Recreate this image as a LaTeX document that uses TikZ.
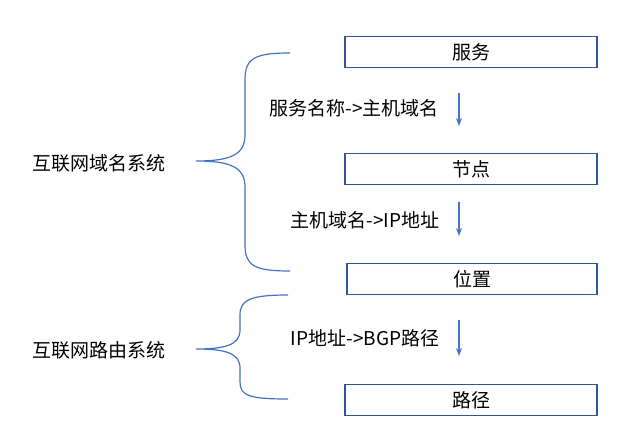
\documentclass[tikz,border=0pt]{standalone}
\usepackage{fontspec}
\setmainfont{Noto Sans CJK SC}
\usetikzlibrary{arrows.meta}
\definecolor{bl}{HTML}{2F5597}
\definecolor{ab}{HTML}{4472C4}
\begin{document}
\begin{tikzpicture}[x=1pt,y=-1pt,
  box/.style={draw=bl,line width=1.6pt,minimum height=31pt,inner sep=0pt},
  txt/.style={font=\fontsize{19}{22}\selectfont,text=black},
  arr/.style={draw=ab,line width=1.5pt,-{Stealth[length=8pt,width=6pt]}},
  br/.style={draw=ab,line width=1.2pt}]
\useasboundingbox (0,0) rectangle (627,441);
\node[box,minimum width=252pt] (s) at (471,52) {};
\node[txt] at (s) {服务};
\node[box,minimum width=252pt] (n) at (471,169) {};
\node[txt] at (n) {节点};
\node[box,minimum width=250pt] (p) at (472,279) {};
\node[txt] at (p) {位置};
\node[box,minimum width=252pt] (r) at (471,400) {};
\node[txt] at (r) {路径};
\coordinate (a1) at (459,93); \coordinate (a2) at (459,126);
\coordinate (b1) at (459,202); \coordinate (b2) at (459,236);
\coordinate (c1) at (459,320); \coordinate (c2) at (459,356);
\draw[arr] (a1) -- (a2);
\draw[arr] (b1) -- (b2);
\draw[arr] (c1) -- (c2);
\node[txt] (l1) at (354,108) {服务名称->主机域名};
\node[txt] (l2) at (365,220) {主机域名->IP地址};
\node[txt] (l3) at (365,338) {IP地址->BGP路径};
\node[txt] (d) at (99,163) {互联网域名系统};
\node[txt] (e) at (99,350) {互联网路由系统};
\coordinate (t1) at (290,53); \coordinate (m1) at (196,161); \coordinate (u1) at (290,271);
\draw[br] (t1) .. controls (255,53) and (245,58) .. (245,80) -- (245,135)
  .. controls (245,155) and (230,161) .. (m1)
  .. controls (230,161) and (245,167) .. (245,187) -- (245,245)
  .. controls (245,266) and (255,271) .. (u1);
\coordinate (t2) at (288,295); \coordinate (m2) at (196,349); \coordinate (u2) at (288,399);
\draw[br] (t2) .. controls (250,295) and (240,300) .. (240,315) -- (240,330)
  .. controls (240,345) and (225,349) .. (m2)
  .. controls (225,349) and (240,353) .. (240,368) -- (240,382)
  .. controls (240,396) and (250,399) .. (u2);
\end{tikzpicture}
\end{document}
